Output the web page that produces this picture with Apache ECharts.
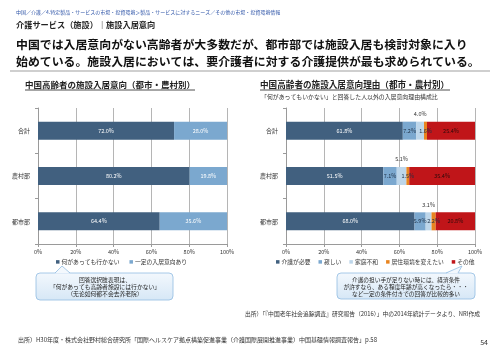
<!DOCTYPE html>
<html>
<head>
<meta charset="utf-8">
<script src="https://cdn.jsdelivr.net/npm/echarts@6/dist/echarts.min.js"></script>
<style>
  html, body { margin: 0; padding: 0; background: #fff; }
  #chart { width: 500px; height: 353px; }
</style>
</head>
<body>
<div id="chart"></div>
<script>
const categories = ['合計', '農村部', '都市部']
const xTicks = [0, 20, 40, 60, 80, 100]

// 左：施設入居意向
const neverGo = [72.0, 80.2, 64.4]
const someIntent = [28.0, 19.8, 35.6]

// 右：入居意向理由
const needCare = [61.8, 51.5, 68.0]
const lonely = [7.2, 7.1, 5.9]
const familyTrouble = [4.0, 5.1, 3.1]
const changeHome = [1.6, 1.5, 2.2]
const others = [25.4, 35.4, 20.8]

const FONT = '"Noto Sans CJK JP", "Noto Sans", sans-serif'
const C_DARK = '#41607f'
const C_LIGHT = '#7ba8cf'
const C_PALE = '#bdd6ea'
const C_ORANGE = '#e8841f'
const C_RED = '#c01519'

const chart = echarts.init(document.getElementById('chart'))

function yAxisFor(gridIndex) {
  return {
    type: 'category', gridIndex, data: categories, inverse: true,
    axisLine: { lineStyle: { color: '#9a9a9a' } },
    axisTick: { show: true, length: 3, lineStyle: { color: '#9a9a9a' } },
    axisLabel: { fontSize: 6, color: '#333', margin: 8, fontFamily: FONT },
  }
}
function xAxisFor(gridIndex) {
  return {
    type: 'value', gridIndex, min: xTicks[0], max: xTicks[xTicks.length - 1], interval: 20,
    axisLine: { show: true, lineStyle: { color: '#9a9a9a' } },
    axisTick: { show: true, length: 3, lineStyle: { color: '#9a9a9a' } },
    splitLine: { lineStyle: { color: '#b5b5b5' } },
    axisLabel: { fontSize: 5.5, color: '#333', margin: 5, formatter: '{value}%', fontFamily: FONT },
  }
}
function pct(p) { return p.value.toFixed(1) + '%' }
function barSeries(name, data, color, xi, labelColor, pos) {
  return {
    name, type: 'bar', stack: 's' + xi, xAxisIndex: xi, yAxisIndex: xi,
    data, barWidth: 18, itemStyle: { color }, clip: true,
    label: { show: true, position: pos || 'inside', formatter: pct, fontSize: 5.5, color: labelColor, fontFamily: FONT },
  }
}

function txt(x, y, text, size, opts) {
  return {
    type: 'text', x, y,
    style: Object.assign({ text, fontSize: size, fontFamily: FONT, fill: '#222', textVerticalAlign: 'middle' }, opts || {}),
  }
}

// 吹き出し：角丸の箱＋上向きの三角
function bubble(x0, y0, x1, y1, px0, px1, ax, ay) {
  const grad = new echarts.graphic.LinearGradient(0, 0, 0, 1, [
    { offset: 0, color: '#f3f8fd' }, { offset: 1, color: '#d6e7f6' },
  ])
  return [
    {
      type: 'rect', shape: { x: x0, y: y0, width: x1 - x0, height: y1 - y0, r: 4 },
      style: { fill: grad, stroke: '#92bde2', lineWidth: 0.8 },
    },
    {
      type: 'polygon', shape: { points: [[px0, y0 + 0.6], [ax, ay], [px1, y0 + 0.6]] },
      style: { fill: '#f3f8fd', stroke: null },
    },
    {
      type: 'polyline', shape: { points: [[px0, y0], [ax, ay], [px1, y0]] },
      style: { stroke: '#92bde2', lineWidth: 0.8, fill: null },
    },
  ]
}

const graphics = [
  txt(16, 12, '中国／介護／4.特定製品・サービスの市場・投資環境＞製品・サービスに対するニーズ／その他の市場・投資環境情報', 5, { fill: '#2f55a8' }),
  txt(16, 25, '介護サービス（施設）｜施設入居意向', 8.2, { fontWeight: 'bold' }),
  txt(16, 44, '中国では入居意向がない高齢者が大多数だが、都市部では施設入居も検討対象に入り', 11.9, { fontWeight: 'bold', fill: '#111' }),
  txt(16, 61, '始めている。施設入居においては、要介護者に対する介護提供が最も求められている。', 11.9, { fontWeight: 'bold', fill: '#111' }),
  { type: 'line', shape: { x1: 10, y1: 71, x2: 490, y2: 71 }, style: { stroke: '#cfcfcf', lineWidth: 2 } },

  txt(25, 85, '中国高齢者の施設入居意向（都市・農村別）', 8.5, { fontWeight: 'bold' }),
  { type: 'line', shape: { x1: 25, y1: 90, x2: 195, y2: 90 }, style: { stroke: '#222', lineWidth: 0.8 } },
  txt(260, 85, '中国高齢者の施設入居意向理由（都市・農村別）', 8.6, { fontWeight: 'bold' }),
  { type: 'line', shape: { x1: 260, y1: 90, x2: 450, y2: 90 }, style: { stroke: '#222', lineWidth: 0.8 } },
  txt(261, 97, '「何があってもいかない」と回答した人以外の入居意向理由構成比', 5.9, { fill: '#333' }),

  ...bubble(36, 273, 173, 300, 55, 70, 62, 266),
  txt(105, 279.5, '回答選択肢表現は、', 5.8, { fill: '#222', align: 'center' }),
  txt(105, 286.5, '「何があっても高齢者施設には行かない」', 5.8, { fill: '#222', align: 'center' }),
  txt(105, 293.5, '（无论如何都不会去养老院）', 5.8, { fill: '#222', align: 'center' }),

  ...bubble(337, 273, 475, 299, 446, 458, 462, 266),
  txt(406, 279.5, '介護の担い手が足りない時には、経済条件', 5.7, { fill: '#222', align: 'center' }),
  txt(406, 286.5, 'が許すなら、ある程度年齢が高くなったら・・・', 5.7, { fill: '#222', align: 'center' }),
  txt(406, 293.5, 'など一定の条件付きでの回答が比較的多い', 5.7, { fill: '#222', align: 'center' }),

  txt(480, 314, '出所）「『中国老年社会追踪調査』研究報告（2016）」中の2014年統計データより、NRI作成', 5.8, { fill: '#333', align: 'right' }),
  txt(18, 340, '出所）H30年度・株式会社野村総合研究所「国際ヘルスケア拠点構築促進事業（介護国際展開推進事業）中国基礎情報調査報告」p.58', 6, { fill: '#333' }),
  txt(488, 342, '54', 7, { fill: '#333', align: 'right' }),
]

chart.setOption({
  animation: false,
  textStyle: { fontFamily: FONT },
  grid: [
    { left: 38, right: 273, top: 108, bottom: 109 },
    { left: 286, right: 25, top: 108, bottom: 109 },
  ],
  xAxis: [xAxisFor(0), xAxisFor(1)],
  yAxis: [yAxisFor(0), yAxisFor(1)],
  legend: [
    {
      data: ['何があっても行かない', '一定の入居意向あり'],
      left: 54, top: 257, width: 180, padding: 2, itemWidth: 3.5, itemHeight: 3.5, itemGap: 10, icon: 'rect',
      textStyle: { fontSize: 5.8, color: '#333', padding: [0, 0, 0, -3] },
    },
    {
      data: ['介護が必要', '寂しい', '家庭不和', '居住環境を変えたい', 'その他'],
      left: 274, top: 257, width: 224, padding: 2, itemWidth: 3.5, itemHeight: 3.5, itemGap: 8, icon: 'rect',
      textStyle: { fontSize: 5.8, color: '#333', padding: [0, 0, 0, -3] },
    },
  ],
  series: [
    barSeries('何があっても行かない', neverGo, C_DARK, 0, '#fff'),
    barSeries('一定の入居意向あり', someIntent, C_LIGHT, 0, '#fff'),
    barSeries('介護が必要', needCare, C_DARK, 1, '#fff'),
    barSeries('寂しい', lonely, C_LIGHT, 1, '#1d2f45'),
    barSeries('家庭不和', familyTrouble, C_PALE, 1, '#333', 'top'),
    barSeries('居住環境を変えたい', changeHome, C_ORANGE, 1, '#1d2f45'),
    barSeries('その他', others, C_RED, 1, '#2a0a0a'),
  ],
  graphic: graphics,
})
</script>
</body>
</html>
